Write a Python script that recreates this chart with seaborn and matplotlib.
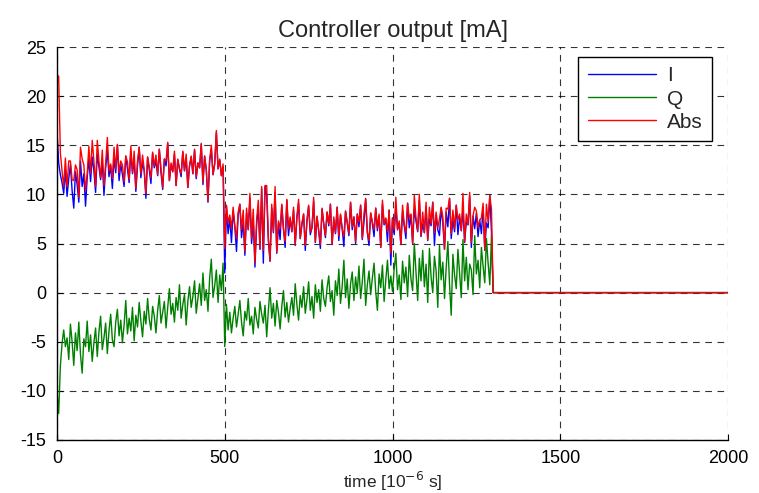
import numpy as np
import pandas as pd
import matplotlib
matplotlib.use("Agg")
import matplotlib.pyplot as plt
import seaborn as sns

# sample times [1e-6 s]: every 5 us up to 1295, then the zero tail
time_us = list(range(0, 1300, 5)) + [1300, 2000]

i_vals = [
    16.5, 13.2, 12.0, 11.2, 10.1, 12.5, 9.8, 11.6, 13.0, 10.4, 8.6, 12.3, 11.0, 9.2, 13.4, 10.8, 12.1, 8.8, 11.7, 13.6,
    11.3, 13.8, 12.4, 10.2, 14.1, 12.8, 11.5, 13.3, 9.9, 12.7, 14.5, 11.8, 12.9, 10.6, 13.7, 12.2, 15.0, 11.4, 13.1, 12.0,
    10.8, 13.9, 12.6, 11.2, 14.4, 12.1, 13.5, 10.3, 12.9, 14.8, 11.7, 13.2, 12.4, 9.6, 13.8, 12.5, 11.1, 14.2, 12.7, 13.4,
    11.9, 14.6, 12.2, 10.5, 13.6, 12.9, 15.2, 11.4, 13.0, 12.3, 14.1, 10.9, 13.5, 12.6, 11.8, 14.3, 12.4, 13.7, 10.7, 12.9,
    13.8, 12.1, 14.5, 11.6, 13.2, 12.7, 15.1, 11.0, 13.9, 12.5, 9.2, 13.4, 14.6, 12.0, 13.1, 16.3, 12.6, 13.5, 11.9, 12.8,
    2.0, 8.8, 6.0, 7.6, 5.1, 8.3, 6.7, 4.2, 7.9, 9.0, 5.6, 7.2, 3.8, 8.1, 6.4, 9.6, 5.0, 7.4, 2.6, 6.9,
    8.7, 4.4, 10.6, 3.0, 10.8, 9.9, 5.3, 3.2, 8.6, 6.1, 10.2, 4.0, 7.0, 5.4, 8.9, 6.5, 4.6, 9.4, 5.8, 7.5,
    6.2, 8.4, 4.8, 7.6, 9.1, 5.5, 6.9, 8.0, 4.3, 7.3, 8.8, 5.9, 6.6, 9.3, 5.1, 7.7, 6.3, 4.5, 8.5, 7.0,
    5.6, 8.2, 6.8, 9.0, 4.9, 7.4, 6.0, 8.7, 5.3, 7.9, 6.5, 4.7, 8.3, 7.1, 5.8, 9.2, 6.4, 7.7, 5.0, 8.0,
    6.7, 8.9, 5.4, 7.2, 9.5, 6.1, 4.8, 8.1, 7.0, 5.7, 8.6, 6.3, 7.8, 4.6, 9.0, 6.9, 7.5, 5.2, 8.4, 2.8,
    7.6, 5.9, 8.8, 6.4, 7.1, 4.9, 8.3, 6.8, 5.5, 9.1, 6.6, 7.9, 5.0, 8.5, 7.3, 6.2, 9.4, 5.7, 7.0, 6.1,
    8.7, 5.3, 7.5, 6.8, 9.2, 4.8, 7.9, 6.4, 5.8, 8.6, 7.1, 4.4, 8.2, 6.7, 9.6, 5.5, 7.4, 6.2, 8.9, 5.9,
    7.7, 6.3, 8.5, 5.1, 7.2, 6.9, 9.8, 4.6, 7.8, 6.5, 8.1, 5.7, 7.4, 6.0, 8.7, 4.3, 7.1, 6.6, 9.9, 6.2,
    0.0, 0.0,
]

q_vals = [
    -10.0, -12.3, -7.5, -5.2, -3.8, -5.5, -4.6, -6.8, -3.2, -5.0, -7.4, -4.1, -5.9, -3.0, -6.3, -8.2, -4.7, -5.5, -2.9, -6.0,
    -4.3, -7.0, -5.1, -3.6, -6.5, -4.0, -2.4, -5.8, -4.6, -3.1, -6.2, -3.9, -2.2, -4.8, -5.5, -3.0, -1.7, -4.4, -2.8, -5.1,
    -3.3, -0.8, -4.2, -2.6, -3.9, -1.5, -4.9, -2.3, -3.5, -1.0, -2.9, -4.5, -1.9, -3.2, -0.6, -2.7, -3.8, -1.4, -2.4, -4.1,
    -1.8, -0.3, -3.1, -2.0, -0.9, -3.6, -1.5, 0.4, -2.2, -1.1, -3.0, -0.5, -1.8, 0.8, -2.6, -1.2, -0.2, -3.3, -0.9, 0.6,
    -1.5, -0.4, 1.2, -2.1, -0.6, 0.9, -1.3, 2.0, -0.8, 0.3, -1.9, 1.5, 3.4, -0.5, 0.7, 2.3, -1.0, 1.8, 0.2, 3.0,
    -5.5, -1.2, -3.8, -2.0, -4.1, -2.6, -1.4, -3.5, -2.2, -0.8, -3.0, -4.4, -1.9, -2.8, -0.6, -3.3, -2.4, -4.2, -1.5, -2.7,
    -3.6, -0.9, -2.2, -3.1, -1.3, -4.5, -1.8, 0.5, -2.6, -1.1, -3.4, -0.8, -2.0, -3.7, -1.4, 0.2, -2.5, -1.0, -3.0, -1.6,
    -0.5, -2.3, 0.9, -1.2, -2.8, -0.3, -1.5, 0.6, -2.1, -0.7, 1.1, -1.8, -0.4, -2.6, 0.8, -1.0, 0.3, -1.9, 1.3, -0.6,
    -1.4, 0.5, 1.7, -0.9, 0.2, -2.3, 1.2, -0.3, 2.4, -1.1, 0.6, 3.3, -0.5, 1.4, -1.6, 0.9, 2.1, -0.8, 1.6, 0.0,
    2.7, -0.6, 1.1, 3.4, -1.3, 0.8, 2.2, -0.2, 1.5, 3.0, 0.1, -1.8, 1.9, 0.5, 2.8, -0.9, 1.3, 3.3, 0.4, 1.7,
    0.1, 2.4, 4.0, 0.3, 1.8, -0.7, 3.2, 1.0, 2.6, -0.4, 3.8, 1.4, 0.2, 5.0, 2.1, -0.8, 3.5, 1.2, 4.3, 0.6,
    2.9, -1.0, 4.5, 1.6, 0.0, 3.7, 2.2, -1.5, 4.8, 1.3, 3.1, -0.6, 2.5, 5.2, 0.8, -2.3, 3.9, 1.8, 0.4, 4.4,
    2.0, -0.5, 5.4, 1.2, 3.6, 0.3, 2.9, 2.3, -0.2, 5.8, 1.9, 3.3, 0.5, 4.6, 2.7, 1.0, 5.5, 3.0, 0.8, 5.8,
    0.0, 0.0,
]

abs_vals = [
    22.2, 22.0, 14.2, 12.4, 10.8, 13.7, 10.8, 13.4, 13.4, 11.5, 11.4, 13.0, 12.5, 9.7, 14.8, 13.6, 13.0, 10.4, 12.1, 14.9,
    12.1, 15.5, 13.4, 10.8, 15.5, 13.4, 11.7, 14.5, 10.9, 13.1, 15.8, 12.4, 13.1, 11.6, 14.8, 12.6, 15.1, 12.2, 13.4, 13.0,
    11.3, 13.9, 13.3, 11.5, 14.9, 12.2, 14.4, 10.6, 13.4, 14.8, 12.1, 14.0, 12.5, 10.1, 13.8, 12.8, 11.7, 14.3, 12.9, 14.0,
    12.0, 14.6, 12.6, 10.7, 13.6, 13.4, 15.3, 11.4, 13.2, 12.3, 14.4, 10.9, 13.6, 12.6, 12.1, 14.4, 12.4, 14.1, 10.7, 12.9,
    13.9, 12.1, 14.6, 11.8, 13.2, 12.7, 15.2, 11.2, 13.9, 12.5, 9.4, 13.5, 15.0, 12.0, 13.1, 16.5, 12.6, 13.6, 11.9, 13.1,
    4.5, 8.9, 7.1, 7.9, 6.5, 8.7, 6.8, 5.5, 8.2, 9.0, 6.4, 8.4, 4.2, 8.6, 6.4, 10.1, 5.5, 8.5, 3.0, 7.4,
    9.4, 4.5, 10.8, 4.3, 10.9, 10.9, 5.6, 3.2, 9.0, 6.2, 10.8, 4.1, 7.3, 6.5, 9.0, 6.5, 5.2, 9.5, 6.5, 7.7,
    6.2, 8.7, 4.9, 7.7, 9.5, 5.5, 7.1, 8.0, 4.8, 7.3, 8.9, 6.2, 6.6, 9.7, 5.2, 7.8, 6.3, 4.9, 8.6, 7.0,
    5.8, 8.2, 7.0, 9.0, 4.9, 7.7, 6.1, 8.7, 5.8, 8.0, 6.5, 5.7, 8.3, 7.2, 6.0, 9.2, 6.7, 7.7, 5.2, 8.0,
    7.2, 8.9, 5.5, 8.0, 9.6, 6.2, 5.3, 8.1, 7.2, 6.4, 8.6, 6.6, 8.0, 4.6, 9.4, 7.0, 7.6, 6.2, 8.4, 4.0,
    7.6, 6.4, 9.7, 6.4, 7.3, 4.9, 8.9, 6.9, 6.1, 9.1, 7.6, 8.0, 5.0, 9.9, 7.6, 6.3, 10.0, 5.8, 8.2, 6.1,
    9.2, 5.4, 8.7, 7.0, 9.2, 6.1, 8.2, 6.6, 7.5, 8.7, 7.7, 4.4, 8.6, 8.5, 9.6, 6.0, 8.4, 6.5, 8.9, 7.4,
    8.0, 6.3, 10.1, 5.2, 8.0, 6.9, 10.2, 5.1, 7.8, 8.7, 8.3, 6.6, 7.4, 7.6, 9.1, 4.4, 9.0, 7.2, 9.9, 8.5,
    0.0, 0.0,
]

series_names = ["I", "Q", "Abs"]
series_colors = ["#0000ff", "#008000", "#ff0000"]

df = pd.DataFrame({
    "time": time_us * 3,
    "value": i_vals + q_vals + abs_vals,
    "series": ["I"] * len(time_us) + ["Q"] * len(time_us) + ["Abs"] * len(time_us),
})

sns.set_style("white")
plt.rcParams["font.family"] = ["Liberation Sans", "DejaVu Sans"]
plt.rcParams["axes.unicode_minus"] = False

fig = plt.figure(figsize=(7.59, 4.93), dpi=100)
ax = fig.add_axes([57 / 759, 53 / 493, (728 - 57) / 759, (440 - 47) / 493])

sns.lineplot(data=df, x="time", y="value", hue="series", hue_order=series_names,
             palette=dict(zip(series_names, series_colors)), linewidth=1.0,
             estimator=None, sort=False, ax=ax)

ax.set_xlim(0, 2000)
ax.set_ylim(-15, 25)
ax.set_xticks([0, 500, 1000, 1500, 2000])
ax.set_yticks([-15, -10, -5, 0, 5, 10, 15, 20, 25])
ax.grid(True, color="black", linestyle=(0, (6, 5)), linewidth=0.8, alpha=0.8)
ax.set_axisbelow(True)

for side in ["top", "right"]:
    ax.spines[side].set_visible(False)
for side in ["left", "bottom"]:
    ax.spines[side].set_color("black")
    ax.spines[side].set_linewidth(1.0)

ax.tick_params(axis="x", direction="in", length=4, width=0.8, colors="black",
               labelsize=13, bottom=True, pad=7)
ax.tick_params(axis="y", direction="in", length=4, width=0.8, colors="black",
               labelsize=13, left=True, pad=8)

ax.set_title("Controller output [mA]", fontsize=17, pad=7)
ax.set_xlabel("time [10$^{\\mathrm{-6}}$ s]", fontsize=12.5, labelpad=2)
ax.set_ylabel("")

leg = ax.legend(loc="upper right", bbox_to_anchor=((712 - 57) / (728 - 57), 1 - 10 / 393),
                fontsize=15, frameon=True, fancybox=False, framealpha=1,
                edgecolor="black", handlelength=3.3, borderpad=0.45, labelspacing=0.2,
                handletextpad=0.5, borderaxespad=0)
leg.get_frame().set_linewidth(1.0)

fig.savefig("out.png", dpi=100)
